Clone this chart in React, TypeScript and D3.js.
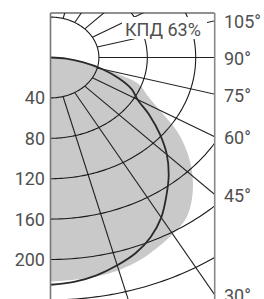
import React from 'react';
import * as d3 from 'd3';

// polar luminous intensity diagram (cd/klm), two planes
const ringValues = [40, 80, 120, 160, 200, 240];
const ringLabels = ['40', '80', '120', '160', '200'];
const rayAngles = [15, 30, 45, 60, 75, 90, 105, 120, 135, 150, 165];
const angleLabels = [105, 90, 75, 60, 45, 30];

const curveAngles = [0, 5, 10, 15, 20, 25, 30, 35, 40, 45, 50, 55, 60, 65, 70, 75, 80, 85, 90];
const greyValues = [222, 221, 220, 218, 214, 208, 202, 195, 182, 166, 148, 128, 104, 88, 78, 50, 28, 13, 0];
const darkValues = [225, 223, 219, 213, 206, 196, 183, 167, 152, 136, 118, 100, 83, 74, 60, 44, 27, 13, 0];

const efficiencyLabel = 'КПД 63%';

const W = 264;
const H = 299;
const left = 50.5;
const right = 214.7;
const top = 13;
const cx = left;
const cy = 57.5;

// the drawing is stretched horizontally
const x = d3.scaleLinear().domain([0, 100]).range([cx, cx + 121]);
const y = d3.scaleLinear().domain([0, 100]).range([cy, cy + 101]);

const rad = (deg: number) => (deg * Math.PI) / 180;
const pt = (deg: number, v: number): [number, number] => [x(v * Math.sin(rad(deg))), y(v * Math.cos(rad(deg)))];

const smooth = d3.line<[number, number]>().curve(d3.curveCatmullRom.alpha(0.5));
const straight = d3.line<[number, number]>();

export default function App() {
  const greyPath = smooth(curveAngles.map((a, i) => pt(a, greyValues[i]))) + 'Z';
  const darkPath = smooth(curveAngles.map((a, i) => pt(a, darkValues[i])));
  const ringPaths = ringValues.map(r => straight(d3.range(0, 181, 1).map(a => pt(a, r))));
  const rayPaths = rayAngles.map(a => straight([pt(a, 40), pt(a, 400)]));

  const vRight = x.invert(right);
  const labelY = (a: number) => {
    const s = Math.sin(rad(a));
    return y((vRight / s) * Math.cos(rad(a)));
  };

  const font = 'Roboto, "DejaVu Sans", sans-serif';
  const ink = '#505050';

  return (
    <svg width={W} height={H} style={{ position: 'absolute', left: 0, top: 0 }}>
      <defs>
        <clipPath id="plot">
          <rect x={left} y={top} width={right - left} height={H - top} />
        </clipPath>
      </defs>
      <rect x={0} y={0} width={W} height={H} fill="#fff" />
      <g clipPath="url(#plot)">
        <path d={greyPath} fill="#c9c9c9" stroke="none" />
        {rayPaths.map((d, i) => (
          <path key={'ray' + i} d={d || ''} fill="none" stroke="#222" strokeWidth={1.1} />
        ))}
        {ringPaths.map((d, i) => (
          <path key={'ring' + i} d={d || ''} fill="none" stroke="#1a1a1a" strokeWidth={1.1} />
        ))}
        <path d={darkPath || ''} fill="none" stroke="#2a2a2a" strokeWidth={1.8} />
      </g>
      <rect x={122} y={17} width={85} height={22} fill="#fff" />
      <text x={125} y={35.5} fontFamily={font} fontSize={18} fill={ink}>{efficiencyLabel}</text>
      <line x1={left} x2={right} y1={top} y2={top} stroke="#222" strokeWidth={1.2} />
      <line x1={left} x2={left} y1={top} y2={H} stroke="#777" strokeWidth={1.6} />
      <line x1={right} x2={right} y1={top} y2={H} stroke="#888" strokeWidth={1.6} />
      {ringLabels.map((t, i) => (
        <text key={'rl' + i} x={45} y={y(ringValues[i]) + 6.5} textAnchor="end" fontFamily={font} fontSize={18} fill={ink}>{t}</text>
      ))}
      {angleLabels.map(a => (
        <text key={'al' + a} x={224} y={Math.min(labelY(a) + 7.5, 305)} fontFamily={font} fontSize={18} fill={ink}>{a + '°'}</text>
      ))}
    </svg>
  );
}
